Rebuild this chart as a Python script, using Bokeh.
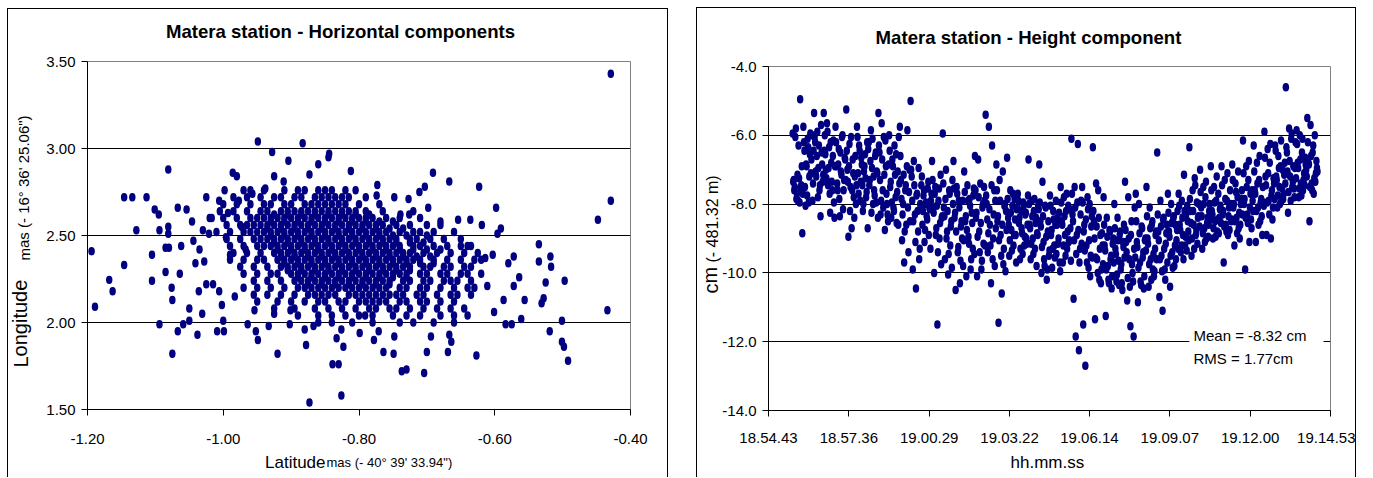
from bokeh.plotting import figure
from bokeh.models import FixedTicker, Label, BoxAnnotation, Range1d, NumeralTickFormatter
from bokeh.layouts import row
from bokeh.embed import file_html
from bokeh.resources import INLINE

# ---------------- data: horizontal components (mas) ----------------
LAT_SPARSE = [-1.194,-1.189,-1.168,-1.163,-1.146,-1.146,-1.134,-1.128,-1.113,-1.105,-1.105,-1.101,-1.095,-1.094,-1.094,
    -1.085,-1.085,-1.081,-1.081,-1.081,-1.080,-1.076,-1.075,-1.075,-1.067,-1.067,-1.064,-1.062,-1.059,-1.054,-1.050,-1.050,
    -1.046,-1.044,-1.041,-1.038,-1.036,-1.035,-1.031,-1.030,-1.028,-1.025,-1.025,-1.021,-1.017,-1.015,-1.009,-1.006,-1.006,
    -1.002,-1.000,-0.999,-0.998,-0.996,-0.993,-0.990,-0.986,-0.983,-0.980,-0.977,-0.973,-0.970,-0.967,-0.964,-0.957,-0.954,
    -0.952,-0.949,-0.949,-0.938,-0.933,-0.928,-0.925,-0.925,-0.920,-0.911,-0.904,-0.902,-0.901,-0.883,-0.880,-0.878,-0.873,
    -0.873,-0.867,-0.860,-0.845,-0.844,-0.839,-0.833,-0.830,-0.826,-0.826,-0.823,-0.812,-0.805,-0.799,-0.791,-0.778,-0.773,
    -0.774,-0.771,-0.764,-0.749,-0.748,-0.748,-0.739,-0.737,-0.730,-0.727,-0.726,-0.711,-0.704,-0.703,-0.700,-0.698,-0.694,
    -0.691,-0.680,-0.669,-0.667,-0.667,-0.664,-0.654,-0.636,-0.635,-0.627,-0.623,-0.619,-0.614,-0.611,-0.603,-0.601,-0.598,
    -0.596,-0.591,-0.587,-0.584,-0.580,-0.575,-0.572,-0.572,-0.564,-0.561,-0.556,-0.535,-0.535,-0.531,-0.528,-0.525,-0.519,
    -0.518,-0.517,-0.501,-0.501,-0.498,-0.497,-0.492,-0.448,-0.434,-0.429,-0.429]
LON_SPARSE = [2.41,2.09,2.245,2.18,2.72,2.33,2.72,2.53,2.72,2.39,2.24,2.65,2.62,2.53,1.99,
    2.43,2.29,2.88,2.55,2.51,2.43,2.20,2.13,1.82,2.66,1.95,2.28,2.44,1.99,2.65,2.08,2.01,
    2.58,2.47,2.34,1.93,2.18,2.42,2.05,2.53,2.35,2.72,2.22,2.51,2.60,2.22,1.95,2.70,2.18,
    2.10,2.01,1.95,2.76,2.49,2.63,2.39,2.86,2.15,2.84,2.70,2.55,2.76,2.42,1.99,2.74,2.07,
    1.95,3.04,1.90,2.77,1.98,2.98,2.84,2.05,1.82,2.81,2.93,1.99,2.07,3.03,1.96,1.87,2.85,
    1.54,1.98,2.91,2.95,2.97,1.76,1.91,1.76,1.96,1.58,1.86,2.87,2.76,1.94,2.04,1.90,2.79,
    2.73,1.95,1.83,1.82,1.92,2.72,2.62,1.72,1.73,2.71,2.62,2.75,1.71,2.78,1.83,2.66,1.92,
    2.86,2.58,1.83,2.81,1.93,1.89,2.59,2.59,2.44,1.81,2.78,2.56,2.37,2.21,2.39,2.06,2.66,
    2.51,2.54,2.13,1.99,2.34,1.99,2.38,2.21,2.26,2.02,2.13,2.45,2.35,2.11,2.14,2.23,1.95,
    2.38,2.32,2.01,1.89,1.86,2.24,1.78,2.59,2.07,2.70,3.43]

# dense central cloud, read row by row (longitude level -> latitudes)
CORE_LON = [2.76, 2.72, 2.68, 2.64, 2.60, 2.56, 2.52, 2.48, 2.44, 2.40,
            2.36, 2.32, 2.28, 2.24, 2.20, 2.16, 2.12, 2.08, 2.04, 2.00]
CORE_LAT = [
    [-0.96,-0.94,-0.91,-0.89,-0.88,-0.86,-0.85,-0.84,-0.82],
    [-0.985,-0.965,-0.945,-0.925,-0.915,-0.895,-0.885,-0.865,-0.855,-0.845,-0.835,-0.825,-0.815,-0.79],
    [-1.00,-0.98,-0.96,-0.94,-0.93,-0.91,-0.90,-0.88,-0.87,-0.86,-0.85,-0.84,-0.83,-0.82,-0.80,-0.77],
    [-1.005,-0.985,-0.965,-0.945,-0.935,-0.915,-0.905,-0.895,-0.885,-0.875,-0.865,-0.855,-0.845,-0.835,-0.825,-0.815,-0.805,-0.79,-0.765,-0.72],
    [-1.02,-1.00,-0.98,-0.96,-0.95,-0.94,-0.93,-0.92,-0.91,-0.90,-0.89,-0.88,-0.87,-0.86,-0.85,-0.84,-0.83,-0.82,-0.81,-0.80,-0.79,-0.78,-0.76,-0.74,-0.71],
    [-0.995,-0.975,-0.965,-0.955,-0.945,-0.935,-0.925,-0.915,-0.905,-0.895,-0.885,-0.875,-0.865,-0.855,-0.845,-0.835,-0.825,-0.815,-0.805,-0.795,-0.785,-0.775,-0.765,-0.745,-0.725,-0.70,-0.68],
    [-1.01,-0.99,-0.97,-0.96,-0.95,-0.94,-0.93,-0.92,-0.91,-0.90,-0.89,-0.88,-0.87,-0.86,-0.85,-0.84,-0.83,-0.82,-0.81,-0.80,-0.79,-0.78,-0.77,-0.76,-0.74,-0.72,-0.71,-0.69,-0.66],
    [-0.995,-0.975,-0.955,-0.945,-0.935,-0.925,-0.915,-0.905,-0.895,-0.885,-0.875,-0.865,-0.855,-0.845,-0.835,-0.825,-0.815,-0.805,-0.795,-0.785,-0.775,-0.765,-0.755,-0.745,-0.725,-0.715,-0.695,-0.675,-0.65],
    [-0.99,-0.97,-0.95,-0.94,-0.93,-0.92,-0.91,-0.90,-0.89,-0.88,-0.87,-0.86,-0.85,-0.84,-0.83,-0.82,-0.81,-0.80,-0.79,-0.78,-0.77,-0.76,-0.75,-0.74,-0.72,-0.71,-0.69,-0.67,-0.65,-0.64],
    [-0.985,-0.965,-0.945,-0.925,-0.915,-0.905,-0.895,-0.885,-0.875,-0.865,-0.855,-0.845,-0.835,-0.825,-0.815,-0.805,-0.795,-0.785,-0.775,-0.765,-0.755,-0.745,-0.735,-0.725,-0.705,-0.685,-0.665,-0.645,-0.625],
    [-0.99,-0.97,-0.95,-0.94,-0.92,-0.91,-0.90,-0.89,-0.88,-0.87,-0.86,-0.85,-0.84,-0.83,-0.82,-0.81,-0.80,-0.79,-0.78,-0.77,-0.76,-0.75,-0.74,-0.73,-0.72,-0.71,-0.69,-0.67,-0.65,-0.63,-0.62],
    [-0.975,-0.955,-0.935,-0.915,-0.905,-0.895,-0.885,-0.875,-0.865,-0.855,-0.845,-0.835,-0.825,-0.815,-0.805,-0.795,-0.785,-0.775,-0.765,-0.755,-0.745,-0.735,-0.725,-0.705,-0.695,-0.675,-0.665,-0.645,-0.635],
    [-0.97,-0.95,-0.93,-0.92,-0.90,-0.89,-0.88,-0.87,-0.86,-0.85,-0.84,-0.83,-0.82,-0.81,-0.80,-0.79,-0.78,-0.77,-0.76,-0.75,-0.74,-0.73,-0.71,-0.70,-0.68,-0.67,-0.65,-0.64,-0.62],
    [-0.955,-0.935,-0.915,-0.895,-0.885,-0.875,-0.865,-0.855,-0.845,-0.835,-0.825,-0.815,-0.805,-0.795,-0.785,-0.775,-0.765,-0.755,-0.735,-0.725,-0.705,-0.695,-0.675,-0.665,-0.655,-0.635],
    [-0.97,-0.95,-0.93,-0.91,-0.89,-0.88,-0.87,-0.86,-0.85,-0.84,-0.83,-0.82,-0.81,-0.80,-0.79,-0.78,-0.77,-0.76,-0.74,-0.73,-0.71,-0.70,-0.68,-0.66,-0.64,-0.63],
    [-0.955,-0.935,-0.915,-0.895,-0.875,-0.865,-0.855,-0.845,-0.835,-0.815,-0.805,-0.795,-0.785,-0.775,-0.765,-0.755,-0.745,-0.735,-0.715,-0.705,-0.685,-0.665,-0.655,-0.635],
    [-0.95,-0.92,-0.90,-0.88,-0.86,-0.85,-0.83,-0.82,-0.80,-0.79,-0.78,-0.77,-0.76,-0.74,-0.73,-0.71,-0.70,-0.68,-0.66],
    [-0.925,-0.895,-0.865,-0.845,-0.825,-0.805,-0.785,-0.775,-0.755,-0.745,-0.725,-0.705,-0.685,-0.665,-0.645],
    [-0.89,-0.86,-0.84,-0.82,-0.80,-0.78,-0.75,-0.73,-0.71,-0.68,-0.66,-0.64],
    [-0.86,-0.84,-0.81,-0.78,-0.74,-0.72,-0.69,-0.66],
]
# darkest part of the cloud: extra rows between the ones above
CORE2_LON = [2.62, 2.58, 2.54, 2.50, 2.46, 2.42, 2.38, 2.34, 2.30, 2.26, 2.22]
CORE2_LAT = [
    [-0.925,-0.905,-0.885,-0.865,-0.845,-0.825,-0.805,-0.785],
    [-0.93,-0.91,-0.89,-0.87,-0.85,-0.83,-0.81,-0.79,-0.77,-0.75],
    [-0.935,-0.915,-0.895,-0.875,-0.855,-0.835,-0.815,-0.795,-0.775,-0.755,-0.735],
    [-0.93,-0.91,-0.89,-0.87,-0.85,-0.83,-0.81,-0.79,-0.77,-0.75,-0.73,-0.70],
    [-0.925,-0.905,-0.885,-0.865,-0.845,-0.825,-0.805,-0.785,-0.765,-0.745,-0.725,-0.705],
    [-0.92,-0.90,-0.88,-0.86,-0.84,-0.82,-0.80,-0.78,-0.76,-0.74,-0.72,-0.70,-0.68],
    [-0.915,-0.895,-0.875,-0.855,-0.835,-0.815,-0.795,-0.775,-0.755,-0.735,-0.715,-0.695],
    [-0.91,-0.89,-0.87,-0.85,-0.83,-0.81,-0.79,-0.77,-0.75,-0.73,-0.71,-0.69],
    [-0.905,-0.885,-0.865,-0.845,-0.825,-0.805,-0.785,-0.765,-0.745,-0.725],
    [-0.89,-0.87,-0.85,-0.83,-0.81,-0.79,-0.77,-0.75,-0.73],
    [-0.875,-0.855,-0.835,-0.815,-0.795,-0.775,-0.755],
]
LAT_TICKS = [-1.20, -1.00, -0.80, -0.60, -0.40]
LON_TICKS = [1.50, 2.00, 2.50, 3.00, 3.50]

# ---------------- data: height component (cm), time series ----------------
TIME_TICKS = ["18.54.43", "18.57.36", "19.00.29", "19.03.22", "19.06.14", "19.09.07", "19.12.00", "19.14.53"]
FIRST_EPOCH = "18.55.35"
LAST_EPOCH = "19.14.25"
# even epochs
HEIGHT_CM_A = [
    -5.95,-7.3,-7.5,-5.8,-7.7,-7.9,-7.25,-4.95,-7.45,-8.85,
    -5.75,-6.45,-8.05,-6.9,-6.1,-7.95,-6.55,-7.1,-6.0,-7.4,
    -5.35,-6.2,-7.2,-5.9,-6.95,-7.6,-8.35,-6.5,-7.35,-5.35,
    -6.0,-7.0,-5.65,-7.45,-6.35,-8.25,-6.8,-7.6,-6.15,-8.4,
    -5.75,-6.9,-7.6,-6.4,-8.35,-7.05,-6.05,-8.15,-7.3,-6.7,
    -5.25,-7.0,-8.95,-6.25,-7.5,-8.7,-6.7,-7.8,-7.2,-8.0,
    -5.75,-7.1,-6.3,-7.9,-6.65,-7.45,-8.0,-6.9,-7.25,-7.65,
    -8.7,-6.2,-7.3,-5.85,-6.95,-8.0,-7.6,-6.6,-7.95,-7.1,
    -5.35,-6.5,-8.3,-5.65,-7.6,-6.05,-8.75,-6.9,-8.0,-8.5,
    -6.0,-7.5,-8.4,-6.7,-8.1,-6.3,-7.8,-8.55,-7.05,-6.05,
    -5.75,-7.3,-9.05,-8.0,-9.7,-7.6,-8.6,-5.85,-9.4,-7.0,
    -5.0,-7.2,-9.9,-6.75,-8.3,-10.45,-7.7,-8.8,-9.6,-8.0,
    -7.45,-8.6,-7.75,-9.1,-8.0,-8.35,-7.55,-8.9,-8.15,-7.9,
    -6.75,-8.1,-10.0,-7.5,-8.7,-11.5,-7.9,-9.0,-7.15,-8.4,
    -5.95,-8.1,-9.6,-7.0,-8.8,-10.05,-7.6,-9.2,-8.5,-7.3,
    -6.75,-8.4,-10.5,-7.5,-9.4,-7.9,-10.3,-8.65,-9.0,-9.8,
    -7.05,-8.5,-10.1,-7.45,-8.95,-7.85,-9.9,-8.25,-9.3,-7.55,
    -6.6,-8.4,-10.1,-6.7,-8.8,-7.4,-9.9,-8.1,-9.15,-7.9,
    -5.4,-8.0,-9.4,-5.75,-8.6,-10.3,-6.3,-9.0,-7.6,-7.9,
    -6.85,-8.5,-11.45,-7.3,-8.9,-10.6,-7.05,-9.3,-8.0,-8.2,
    -6.65,-8.4,-9.5,-7.6,-8.75,-8.05,-9.2,-7.85,-8.9,-8.15,
    -7.7,-8.55,-9.6,-8.2,-8.85,-7.95,-9.2,-8.3,-9.0,-8.6,
    -6.7,-8.6,-9.6,-7.9,-9.0,-8.2,-9.3,-8.4,-8.85,-8.05,
    -6.85,-8.5,-10.0,-7.35,-9.1,-9.8,-8.1,-10.2,-8.8,-9.5,
    -7.75,-8.9,-9.85,-8.2,-9.2,-8.6,-9.45,-8.4,-9.0,-9.7,
    -7.5,-8.5,-9.7,-7.8,-8.9,-8.2,-9.3,-8.05,-9.05,-8.7,
    -6.1,-8.3,-10.75,-7.5,-11.85,-8.9,-6.25,-12.25,-9.3,-7.9,
    -7.5,-11.5,-8.6,-12.7,-9.2,-7.8,-9.85,-8.0,-9.5,-8.35,
    -6.35,-8.5,-11.35,-7.4,-9.6,-7.6,-10.2,-8.9,-9.9,-9.2,
    -7.8,-9.2,-11.25,-8.4,-9.8,-10.3,-8.8,-9.5,-10.1,-9.0,
    -8.0,-9.3,-10.25,-8.4,-9.65,-8.9,-9.9,-10.3,-9.1,-8.6,
    -7.35,-9.1,-10.8,-7.8,-9.6,-11.55,-8.5,-10.0,-11.85,-8.1,
    -7.7,-9.1,-10.85,-8.0,-9.7,-10.35,-8.7,-9.4,-10.1,-9.0,
    -7.5,-9.0,-10.4,-8.1,-9.6,-8.6,-9.9,-10.1,-9.3,-8.8,
    -6.5,-8.8,-10.7,-7.9,-9.5,-11.1,-8.4,-9.9,-9.15,-8.6,
    -7.7,-8.8,-10.4,-8.0,-9.4,-8.4,-9.8,-8.6,-9.05,-8.2,
    -7.7,-8.6,-9.4,-7.9,-8.9,-7.15,-9.2,-8.3,-8.05,-8.8,
    -6.35,-8.2,-9.5,-7.6,-8.6,-7.25,-8.9,-7.95,-8.4,-8.0,
    -7.0,-8.1,-9.3,-7.5,-8.7,-7.8,-9.0,-8.4,-8.6,-8.0,
    -6.9,-8.2,-9.0,-7.5,-8.5,-7.9,-8.8,-7.7,-8.4,-8.05,
    -6.9,-8.3,-9.7,-7.3,-8.6,-7.9,-8.9,-8.1,-7.6,-8.5,
    -6.85,-8.1,-9.2,-7.4,-8.4,-7.8,-8.7,-9.0,-8.0,-7.6,
    -6.15,-8.0,-9.9,-6.9,-8.3,-7.3,-9.1,-7.7,-8.7,-7.9,
    -6.3,-7.6,-9.1,-6.8,-8.1,-7.3,-8.5,-7.85,-8.9,-7.95,
    -5.9,-7.2,-8.9,-6.4,-7.9,-6.8,-9.0,-7.6,-8.1,-7.4,
    -6.3,-7.2,-8.1,-6.6,-7.5,-6.9,-7.9,-7.0,-7.7,-6.8,
    -4.6,-6.5,-8.25,-5.8,-7.2,-6.1,-7.5,-6.9,-7.8,-6.2,
    -5.85,-6.8,-7.8,-6.0,-7.4,-6.5,-7.6,-7.1,-6.65,-7.0,
    -5.5,-6.8,-8.5,-5.7,-7.4,-6.5,-7.7,-6.0,-7.1,-6.95,
]
# odd epochs
HEIGHT_CM_B = [
    -7.35,-7.6,-6.05,-7.85,-7.15,-6.3,-7.95,-7.55,-6.9,-7.7,
    -6.2,-7.5,-6.85,-7.75,-6.35,-7.2,-5.95,-6.7,-7.9,-6.45,
    -6.05,-7.05,-6.6,-7.8,-6.3,-7.45,-5.7,-6.85,-7.15,-6.45,
    -6.55,-7.25,-5.9,-6.95,-7.7,-6.2,-7.35,-6.6,-7.95,-6.9,
    -6.2,-7.4,-6.85,-7.85,-6.5,-7.15,-6.0,-7.6,-6.65,-7.3,
    -6.45,-7.35,-6.9,-8.2,-6.05,-7.6,-7.1,-8.4,-6.6,-7.45,
    -6.05,-7.7,-6.45,-7.35,-6.85,-8.2,-7.05,-6.55,-7.8,-6.2,
    -6.4,-7.45,-6.75,-8.25,-6.1,-7.2,-7.75,-6.5,-7.05,-8.4,
    -6.3,-7.3,-7.9,-6.7,-8.1,-7.15,-6.15,-7.7,-8.3,-6.85,
    -6.45,-7.35,-7.95,-6.9,-8.2,-7.15,-6.55,-7.65,-8.6,-7.4,
    -6.6,-7.85,-8.3,-7.15,-8.8,-7.45,-6.9,-8.1,-7.65,-8.5,
    -7.0,-7.9,-8.5,-7.45,-9.1,-7.75,-8.2,-6.95,-9.3,-8.05,
    -7.2,-8.2,-7.6,-8.75,-7.95,-8.45,-7.35,-8.1,-9.3,-7.7,
    -7.3,-8.25,-7.7,-8.9,-8.05,-9.4,-7.55,-8.55,-9.75,-8.35,
    -7.4,-8.35,-7.85,-9.0,-8.2,-9.45,-7.7,-8.65,-9.85,-8.0,
    -7.55,-8.25,-8.8,-7.7,-9.25,-8.1,-9.65,-8.5,-7.9,-9.05,
    -7.65,-8.35,-8.75,-7.9,-9.15,-8.05,-9.6,-8.55,-7.75,-9.45,
    -7.6,-8.25,-8.95,-7.8,-9.4,-8.55,-9.65,-8.0,-7.5,-9.2,
    -7.75,-8.45,-8.85,-8.15,-9.2,-7.45,-9.6,-8.3,-9.8,-8.7,
    -7.6,-8.35,-9.05,-7.9,-9.5,-8.6,-9.75,-8.05,-9.95,-8.75,
    -7.85,-8.6,-9.05,-8.25,-9.35,-7.7,-8.9,-8.45,-9.7,-8.1,
    -7.9,-8.4,-9.3,-8.7,-9.45,-8.05,-8.95,-8.25,-9.15,-7.75,
    -8.0,-8.7,-9.15,-8.35,-9.45,-7.85,-8.55,-9.8,-8.9,-8.15,
    -7.95,-8.65,-9.25,-8.35,-9.6,-8.05,-8.95,-9.9,-8.5,-9.35,
    -8.05,-8.75,-9.3,-8.45,-9.55,-7.9,-8.6,-9.15,-8.25,-9.95,
    -7.95,-8.6,-9.2,-8.35,-9.5,-7.7,-8.8,-9.1,-8.15,-9.65,
    -7.7,-8.5,-9.05,-8.1,-9.45,-7.95,-8.75,-9.7,-8.3,-9.15,
    -7.95,-8.8,-9.35,-8.45,-9.7,-8.15,-9.05,-10.1,-8.65,-9.55,
    -8.2,-9.0,-9.55,-8.65,-10.0,-8.4,-9.3,-10.3,-8.85,-9.75,
    -8.6,-9.35,-9.9,-8.95,-10.2,-8.75,-9.6,-10.45,-9.15,-9.7,
    -8.7,-9.45,-10.05,-9.05,-10.35,-8.8,-9.75,-10.5,-9.25,-9.55,
    -8.75,-9.4,-10.15,-9.0,-10.4,-8.9,-9.75,-10.25,-9.3,-9.55,
    -8.5,-9.25,-9.85,-8.85,-10.25,-8.65,-9.55,-10.45,-9.05,-9.35,
    -8.35,-9.15,-9.75,-8.7,-10.2,-8.5,-9.45,-9.95,-8.9,-9.6,
    -8.3,-9.05,-9.6,-8.65,-9.95,-8.45,-9.3,-10.2,-8.85,-9.7,
    -8.25,-8.95,-9.5,-8.55,-9.85,-8.35,-9.2,-9.6,-8.75,-9.3,
    -8.05,-8.75,-9.2,-8.4,-9.6,-8.2,-8.95,-9.35,-8.5,-9.05,
    -7.85,-8.55,-9.0,-8.2,-9.3,-7.45,-8.75,-9.15,-8.35,-8.65,
    -7.65,-8.35,-8.85,-8.0,-9.1,-7.35,-8.55,-8.95,-8.2,-8.45,
    -7.6,-8.3,-8.7,-7.95,-8.95,-7.2,-8.45,-8.85,-8.15,-8.55,
    -7.45,-8.2,-8.65,-7.85,-8.8,-7.1,-8.35,-8.75,-8.0,-8.45,
    -7.3,-8.0,-8.5,-7.65,-8.85,-7.05,-8.25,-8.6,-7.85,-8.3,
    -7.1,-7.85,-8.4,-7.5,-8.55,-6.75,-8.1,-8.45,-7.6,-8.2,
    -7.05,-7.7,-8.2,-7.4,-8.6,-6.6,-7.95,-8.35,-7.5,-8.05,
    -6.65,-7.45,-7.95,-7.1,-8.3,-6.25,-7.75,-8.45,-7.25,-7.85,
    -6.45,-7.3,-7.75,-6.95,-8.0,-6.15,-7.55,-7.85,-7.15,-7.4,
    -6.35,-7.05,-7.65,-6.75,-7.9,-5.95,-7.35,-7.55,-6.95,-7.25,
    -6.25,-6.95,-7.55,-6.7,-7.75,-6.1,-7.3,-7.45,-6.85,-7.2,
    -6.2,-6.85,-7.5,-6.6,-7.6,-6.3,-7.25,-7.35,-6.75,-7.05,
]
HEIGHT_TICKS = [-14.0, -12.0, -10.0, -8.0, -6.0, -4.0]
MEAN_TEXT = "Mean = -8.32 cm"
RMS_TEXT = "RMS =  1.77cm"

# ---------------- helpers ----------------
def to_sec(s):
    h, m, sec = (int(v) for v in s.split("."))
    return h * 3600 + m * 60 + sec

T0 = to_sec(TIME_TICKS[0])
tick_secs = [to_sec(t) - T0 for t in TIME_TICKS]
t_first = to_sec(FIRST_EPOCH) - T0
t_last = to_sec(LAST_EPOCH) - T0
height = []
for a, b in zip(HEIGHT_CM_A, HEIGHT_CM_B):
    height.extend([a, b])
n = len(height)
epochs = [t_first + (t_last - t_first) * i / (n - 1) for i in range(n)]

lat = list(LAT_SPARSE)
lon = list(LON_SPARSE)
for levels, rows in ((CORE_LON, CORE_LAT), (CORE2_LON, CORE2_LAT)):
    for lv, xs in zip(levels, rows):
        lat.extend(xs)
        lon.extend([lv] * len(xs))

NAVY = "#000080"
FONT = "'Liberation Sans', Arial, sans-serif"
BORDER = {"border-top": "1px solid #000", "border-left": "1px solid #000", "border-right": "1px solid #000"}


def style_axes(p, x_standoff):
    for ax in (p.xaxis[0], p.yaxis[0]):
        ax.axis_line_color = "black"
        ax.axis_line_width = 1
        ax.major_tick_line_color = "black"
        ax.major_tick_in = 0
        ax.major_tick_out = 6
        ax.minor_tick_line_color = None
        ax.major_label_text_font = FONT
        ax.major_label_text_font_size = "15px"
        ax.major_label_text_color = "black"
    p.xaxis.major_label_standoff = x_standoff
    p.yaxis.major_label_standoff = 6
    p.xgrid.visible = False
    p.ygrid.grid_line_color = "black"
    p.ygrid.grid_line_width = 1


def make_labeler(p, xr, yr, fw, fh):
    """place text at pixel offsets (dx right of frame-left, dy above frame-bottom).
    Horizontal texts go in above/below panels, rotated ones in left/right panels,
    so that each adds only its line height to the border it sits in."""
    def lab(side, dx, dy, text, size, bold=False, angle=0.0, align="left"):
        x = xr[0] + dx * (xr[1] - xr[0]) / fw
        y = yr[0] + dy * (yr[1] - yr[0]) / fh
        p.add_layout(Label(x=x, y=y, x_units="data", y_units="data", text=text,
                           text_font=FONT, text_font_size=size,
                           text_font_style="bold" if bold else "normal",
                           text_color="black", text_align=align, text_baseline="alphabetic",
                           angle=angle), side)
    return lab

# ---------------- left panel ----------------
XR1, YR1 = (-1.2, -0.4), (1.5, 3.5)
p1 = figure(width=661, height=469, x_range=Range1d(*XR1), y_range=Range1d(*YR1),
            output_backend="svg", toolbar_location=None, title=None, frame_align=False,
            min_border_left=79, min_border_right=39, min_border_top=52, min_border_bottom=69,
            background_fill_color="white", border_fill_color="white", outline_line_color="#808080",
            styles=BORDER)
p1.margin = (8, 0, 0, 7)
style_axes(p1, 18)
p1.xaxis.ticker = FixedTicker(ticks=LAT_TICKS)
p1.yaxis.ticker = FixedTicker(ticks=LON_TICKS)
p1.xaxis.formatter = NumeralTickFormatter(format="0.00")
p1.yaxis.formatter = NumeralTickFormatter(format="0.00")
p1.ygrid.ticker = FixedTicker(ticks=LON_TICKS[1:-1])
p1.ellipse(x=lat, y=lon, width=6.5, height=8.5, width_units="screen", height_units="screen",
           fill_color=NAVY, line_color=None)
lab1 = make_labeler(p1, XR1, YR1, 543, 348)
lab1("above", 253, 378, "Matera station - Horizontal components", "18.6px", bold=True, align="center")
lab1("above", 239, -53, "mas (- 40\u00b0 39' 33.94\")", "13px")
lab1("left", -67, 42, "Longitude", "20px", angle=1.5708)
lab1("right", -63.5, 149, "mas (- 16\u00b0 36' 25.06\")", "15px", angle=1.5708)
lab1("below", 177.5, -53, "Latitude", "17px")

# ---------------- right panel ----------------
XR2, YR2 = (tick_secs[0], tick_secs[-1]), (-14.0, -4.0)
p2 = figure(width=660, height=470, x_range=Range1d(*XR2), y_range=Range1d(*YR2),
            output_backend="svg", toolbar_location=None, title=None, frame_align=False,
            min_border_left=71, min_border_right=27, min_border_top=58, min_border_bottom=68,
            background_fill_color="white", border_fill_color="white", outline_line_color="#808080",
            styles=BORDER)
p2.margin = (7, 0, 0, 28)
style_axes(p2, 16)
p2.xaxis.ticker = FixedTicker(ticks=tick_secs)
p2.xaxis.major_label_overrides = {s: t for s, t in zip(tick_secs, TIME_TICKS)}
p2.yaxis.ticker = FixedTicker(ticks=HEIGHT_TICKS)
p2.yaxis.formatter = NumeralTickFormatter(format="0.0")
p2.ygrid.ticker = FixedTicker(ticks=HEIGHT_TICKS[1:-1])
p2.ellipse(x=epochs, y=height, width=6.5, height=8.5, width_units="screen", height_units="screen",
           fill_color=NAVY, line_color=None)
p2.add_layout(BoxAnnotation(left=906, right=1195, bottom=-12.45, top=-11.6,
                            fill_color="white", fill_alpha=1.0, line_color=None))
for txt, yv in ((MEAN_TEXT, -11.82), (RMS_TEXT, -12.49)):
    p2.add_layout(Label(x=915, y=yv, text=txt, text_font=FONT, text_font_size="15px",
                        text_color="black", text_baseline="alphabetic"))
lab2 = make_labeler(p2, XR2, YR2, 562, 344)
lab2("above", 260, 373, "Matera station - Height component", "18.6px", bold=True, align="center")
lab2("right", -56, 148, "(- 481.32 m)", "16px", angle=1.5708)
lab2("left", -58, 117, "cm", "20px", angle=1.5708)
lab2("below", 242, -52, "hh.mm.ss", "17px")

layout = row(p1, p2)
open("out.html", "w").write(file_html(layout, INLINE))
